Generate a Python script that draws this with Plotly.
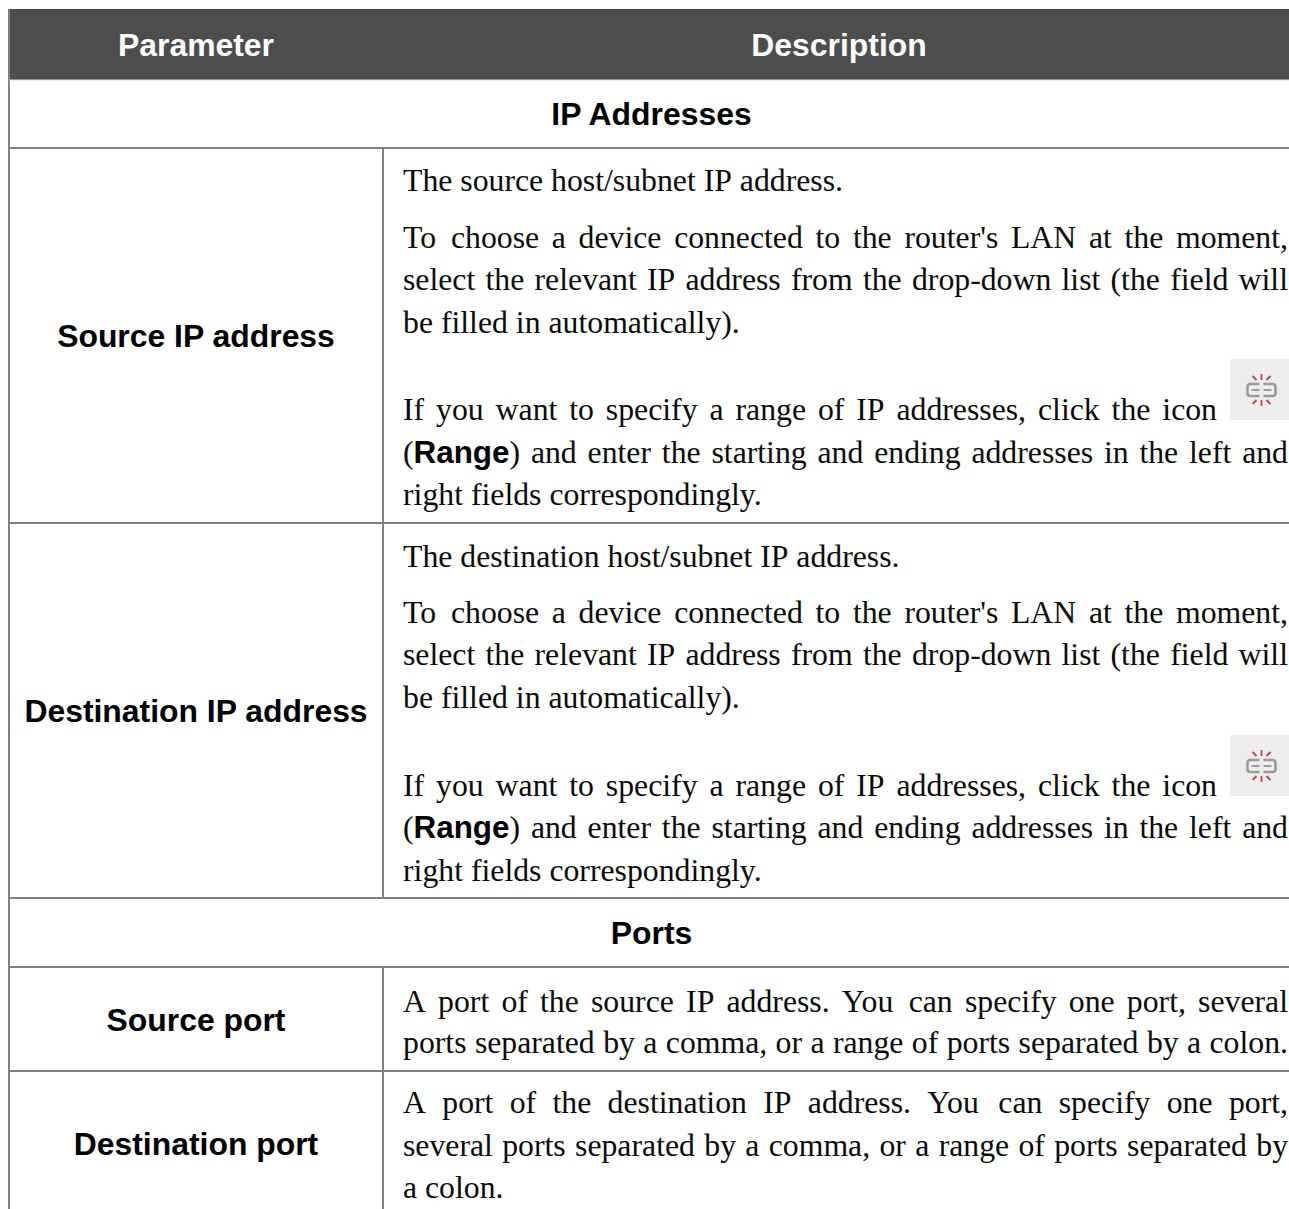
import plotly.graph_objects as go

# ---------- content ----------
header_labels = ["Parameter", "Description"]
section_labels = ["IP Addresses", "Ports"]
row_labels = ["Source IP address", "Destination IP address", "Source port", "Destination port"]

# (text, justified) -- **x** marks bold
source_ip_lines = [
    ("The source host/subnet IP address.", False),
    ("To choose a device connected to the router's LAN at the moment,", True),
    ("select the relevant IP address from the drop-down list (the field will", True),
    ("be filled in automatically).", False),
    ("If you want to specify a range of IP addresses, click the icon", "icon"),
    ("(**Range**) and enter the starting and ending addresses in the left and", True),
    ("right fields correspondingly.", False),
]
dest_ip_lines = [
    ("The destination host/subnet IP address.", False),
] + source_ip_lines[1:]
source_port_lines = [
    ("A port of the source IP address. You can specify one port, several", True),
    ("ports separated by a comma, or a range of ports separated by a colon.", True),
]
dest_port_lines = [
    ("A port of the destination IP address. You can specify one port,", True),
    ("several ports separated by a comma, or a range of ports separated by", True),
    ("a colon.", False),
]
all_lines = source_ip_lines + dest_ip_lines + source_port_lines + dest_port_lines
line_y = [183, 240, 282, 325, 412, 455, 497,
          559, 615, 657, 700, 788, 830, 873,
          1004, 1045,
          1105, 1148, 1190]

header_y = [48, 48]
header_x = [196, 839]
section_y = [117, 936]
section_x = [651.5, 651.5]
label_y = [339, 714, 1023, 1147]
label_x = [196, 196, 196, 196]

h_rules = [148, 523, 898, 967, 1071]
v_rule_segments = [(148, 898), (967, 1209)]
icon_tops = [359, 735]

WIDTH, HEIGHT = 1289, 1209
COL_LEFT = 9
COL_MID = 383
TEXT_L, TEXT_R = 403, 1288
SERIF_SIZE = 31.75
BOLD_SIZE = 31.4
LABEL_SIZE = 31.9

# advance widths (per mille) of the two text faces
SERIF = dict(zip("abcdefghijklmnopqrstuvwxyz",
                 [444,500,444,500,444,333,500,500,278,278,500,278,778,500,500,500,500,333,389,278,500,500,722,500,500,444]))
SERIF.update({" ":250, ".":250, ",":250, ":":278, "'":180, "(":333, ")":333, "/":278, "-":333,
              "A":722, "D":722, "I":333, "L":611, "N":722, "P":556, "T":611, "Y":722, "R":667})
BOLD = {"R":722, "a":556, "n":611, "g":611, "e":556}


def runs_of(word):
    parts = word.split("**")
    return [(p, i % 2 == 1) for i, p in enumerate(parts) if p]


def run_width(text, bold):
    if bold:
        return sum(BOLD[c] for c in text) * BOLD_SIZE / 1000
    return sum(SERIF[c] for c in text) * SERIF_SIZE / 1000


def layout_line(text, mode, left, right):
    words = text.split(" ")
    widths = [sum(run_width(t, b) for t, b in runs_of(w)) for w in words]
    space = SERIF[" "] * SERIF_SIZE / 1000
    if mode is True:
        space = (right - left - sum(widths)) / (len(words) - 1)
    elif mode == "icon":
        space = (1217 - left - sum(widths)) / (len(words) - 1)
    out = []
    x = left
    for w, wd in zip(words, widths):
        xx = x
        for t, b in runs_of(w):
            out.append((xx, t, b))
            xx += run_width(t, b)
        x += wd + space
    return out


serif_x, serif_y, serif_t = [], [], []
bold_x, bold_y, bold_t = [], [], []
for (txt, mode), y in zip(all_lines, line_y):
    for x, t, b in layout_line(txt, mode, TEXT_L, TEXT_R):
        if b:
            bold_x.append(x); bold_y.append(y); bold_t.append(t)
        else:
            serif_x.append(x); serif_y.append(y); serif_t.append(t)

fig = go.Figure()
fig.add_trace(go.Scatter(x=serif_x, y=serif_y, text=serif_t, mode="text", textposition="middle right",
                         textfont=dict(family="Liberation Serif", size=SERIF_SIZE, color="#0a0a0a"),
                         hoverinfo="skip", showlegend=False))
fig.add_trace(go.Scatter(x=bold_x, y=bold_y, text=bold_t, mode="text", textposition="middle right",
                         textfont=dict(family="Liberation Sans", size=BOLD_SIZE, color="#000000", weight=700),
                         hoverinfo="skip", showlegend=False))
fig.add_trace(go.Scatter(x=section_x + label_x, y=section_y + label_y, text=section_labels + row_labels,
                         mode="text", textposition="middle center",
                         textfont=dict(family="Liberation Sans", size=LABEL_SIZE, color="#000000", weight=700),
                         hoverinfo="skip", showlegend=False))
fig.add_trace(go.Scatter(x=header_x, y=header_y, text=header_labels, mode="text", textposition="middle center",
                         textfont=dict(family="Liberation Sans", size=LABEL_SIZE, color="#ffffff", weight=700),
                         hoverinfo="skip", showlegend=False))

LINE = dict(color="#808080", width=2)
shapes = [
    dict(type="rect", x0=COL_LEFT, x1=WIDTH, y0=9, y1=80, fillcolor="#4d4d4d", line_width=0, layer="below"),
    dict(type="line", x0=COL_LEFT, x1=COL_LEFT, y0=9, y1=HEIGHT, line=LINE),
    dict(type="line", x0=COL_LEFT, x1=WIDTH, y0=80, y1=80, line=dict(color="#d9d9d9", width=1)),
]
for y in h_rules:
    shapes.append(dict(type="line", x0=COL_LEFT, x1=WIDTH, y0=y, y1=y, line=LINE))
for y0, y1 in v_rule_segments:
    shapes.append(dict(type="line", x0=COL_MID, x1=COL_MID, y0=y0, y1=y1, line=LINE))

# range icon
for top in icon_tops:
    cx, cy = 1261.5, top + 31
    shapes.append(dict(type="rect", x0=1230, x1=1289, y0=top, y1=top + 61, fillcolor="#ededed", line_width=0, layer="below"))
    for sx in (-1, 1):
        shapes.append(dict(type="path", path=f"M {cx+sx*2} {cy-6} L {cx+sx*11} {cy-6} Q {cx+sx*14} {cy-6} {cx+sx*14} {cy-3} L {cx+sx*14} {cy+3} Q {cx+sx*14} {cy+6} {cx+sx*11} {cy+6} L {cx+sx*2} {cy+6}",
                           line=dict(color="#9a9a9a", width=2.6)))
        shapes.append(dict(type="line", x0=cx + sx * 2, x1=cx + sx * 10, y0=cy, y1=cy, line=dict(color="#9a9a9a", width=2)))
    for dx0, dy0, dx1, dy1 in [(0, -16, 0, -10), (-9, -14, -5, -10), (9, -14, 5, -10),
                               (0, 10, 0, 16), (-9, 14, -5, 10), (9, 14, 5, 10)]:
        shapes.append(dict(type="line", x0=cx + dx0, x1=cx + dx1, y0=cy + dy0, y1=cy + dy1,
                           line=dict(color="#c8403f", width=1.8)))

fig.update_layout(
    width=WIDTH, height=HEIGHT, margin=dict(l=0, r=0, t=0, b=0),
    paper_bgcolor="white", plot_bgcolor="white", shapes=shapes, showlegend=False,
    xaxis=dict(range=[0, WIDTH], visible=False, fixedrange=True),
    yaxis=dict(range=[HEIGHT, 0], visible=False, fixedrange=True),
)
fig.write_html("out.html", config=dict(displayModeBar=False),
               post_script="document.body.style.margin='0';")
